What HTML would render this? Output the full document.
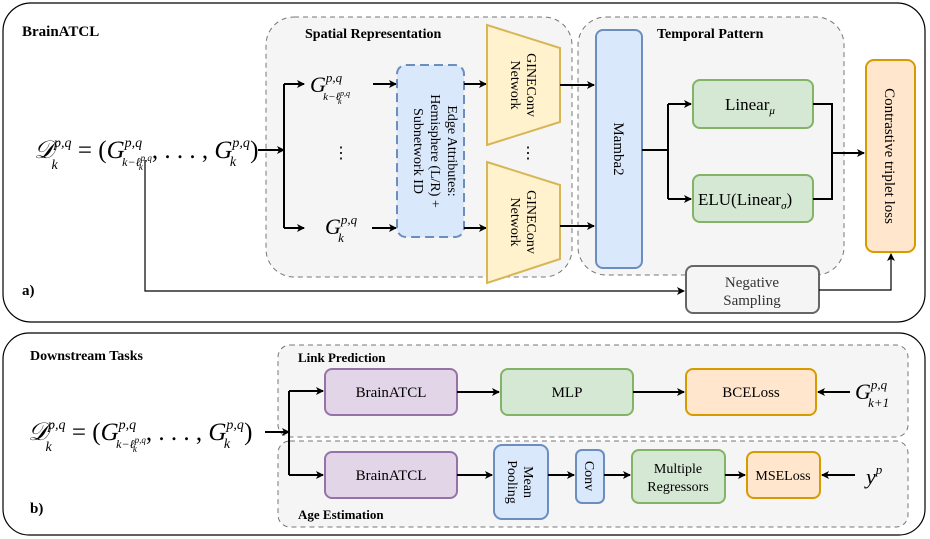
<!DOCTYPE html>
<html><head><meta charset="utf-8"><style>
html,body{margin:0;padding:0;background:#fff}
svg{display:block}
svg text{font-family:"Liberation Serif","DejaVu Serif",serif}
</style></head><body>
<svg width="930" height="539" viewBox="0 0 930 539" xmlns="http://www.w3.org/2000/svg" font-family="Liberation Serif, serif">
<defs>
<marker id="ar" markerWidth="8" markerHeight="8" refX="7" refY="4" orient="auto" markerUnits="userSpaceOnUse"><path d="M0,0 L8,4 L0,8 L2,4 z" fill="#000"/></marker>
</defs>
<!-- panel a -->
<rect x="3" y="3" width="922" height="319" rx="28" fill="#fff" stroke="#000" stroke-width="1.2"/>
<text x="22" y="36" font-size="15" font-weight="bold">BrainATCL</text>
<text x="22" y="295" font-size="15" font-weight="bold">a)</text>
<rect x="266" y="17" width="306" height="260" rx="28" fill="#f5f5f5" stroke="#777" stroke-dasharray="5,4"/>
<rect x="578" y="17" width="266" height="258" rx="28" fill="#f5f5f5" stroke="#777" stroke-dasharray="5,4"/>
<text x="305" y="38" font-size="14" font-weight="bold">Spatial Representation</text>
<text x="657" y="38" font-size="14" font-weight="bold">Temporal Pattern</text>
<!-- formula a -->
<text x="34" y="158" font-size="25" font-style="italic">𝒟<tspan font-size="14" dy="-11">p,q</tspan><tspan font-size="14" dx="-20" dy="22">k</tspan><tspan dy="-11" dx="14" font-style="normal"> = (</tspan>G<tspan font-size="14" dy="-11">p,q</tspan><tspan font-size="12" dx="-20" dy="19">k−ℓ</tspan><tspan font-size="9" dy="-5">p,q</tspan><tspan font-size="9" dx="-13" dy="9">k</tspan><tspan font-style="normal" dy="-12" dx="9">, . . . , </tspan>G<tspan font-size="14" dy="-11">p,q</tspan><tspan font-size="14" dx="-20" dy="19">k</tspan><tspan font-style="normal" dy="-8" dx="14">)</tspan></text>
<!-- branches -->
<path d="M284,84 V228" stroke="#000" stroke-width="2" fill="none"/>
<path d="M258,150 H284" stroke="#000" stroke-width="2" marker-end="url(#ar)"/>
<path d="M284,84 H304" stroke="#000" stroke-width="2" marker-end="url(#ar)"/>
<path d="M284,228 H304" stroke="#000" stroke-width="2" marker-end="url(#ar)"/>
<text x="310" y="92" font-size="22" font-style="italic">G<tspan font-size="13" dy="-10">p,q</tspan><tspan font-size="11" dx="-19" dy="18">k−ℓ</tspan><tspan font-size="8" dy="-4">p,q</tspan><tspan font-size="8" dx="-12" dy="8">k</tspan></text>
<text x="325" y="234" font-size="22" font-style="italic">G<tspan font-size="13" dy="-10">p,q</tspan><tspan font-size="13" dx="-19" dy="18">k</tspan></text>
<text x="333" y="158" font-size="16">⋮</text>
<path d="M373,84 H396" stroke="#000" stroke-width="2" marker-end="url(#ar)"/>
<path d="M372,228 H396" stroke="#000" stroke-width="2" marker-end="url(#ar)"/>
<rect x="397" y="65" width="67" height="172" rx="9" fill="#dae8fc" stroke="#6c8ebf" stroke-width="2" stroke-dasharray="9,5"/>
<text transform="translate(430,151) rotate(90)" font-size="14" text-anchor="middle"><tspan x="0" dy="-18">Edge Attributes:</tspan><tspan x="0" dy="17">Hemisphere (L/R) +</tspan><tspan x="0" dy="17">Subnetwork ID</tspan></text>
<path d="M464,84 H486" stroke="#000" stroke-width="2" marker-end="url(#ar)"/>
<path d="M464,228 H486" stroke="#000" stroke-width="2" marker-end="url(#ar)"/>
<polygon points="487,25 560,48 560,122 487,145" fill="#fff2cc" stroke="#d6b656" stroke-width="2"/>
<polygon points="487,162 560,185 560,259 487,283" fill="#fff2cc" stroke="#d6b656" stroke-width="2"/>
<text transform="translate(523,85) rotate(90)" font-size="14" text-anchor="middle"><tspan x="0" dy="-4">GINEConv</tspan><tspan x="0" dy="16">Network</tspan></text>
<text transform="translate(523,222) rotate(90)" font-size="14" text-anchor="middle"><tspan x="0" dy="-4">GINEConv</tspan><tspan x="0" dy="16">Network</tspan></text>
<text x="520" y="158" font-size="16">⋮</text>
<path d="M560,85 H594" stroke="#000" stroke-width="2" marker-end="url(#ar)"/>
<path d="M560,226 H594" stroke="#000" stroke-width="2" marker-end="url(#ar)"/>
<rect x="596" y="30" width="46" height="238" rx="7" fill="#dae8fc" stroke="#6c8ebf" stroke-width="2"/>
<text transform="translate(619,149) rotate(90)" font-size="15" text-anchor="middle" dy="5">Mamba2</text>
<path d="M642,150 H668 M668,104 V199" stroke="#000" stroke-width="2" fill="none"/>
<path d="M668,104 H691" stroke="#000" stroke-width="2" marker-end="url(#ar)"/>
<path d="M668,199 H691" stroke="#000" stroke-width="2" marker-end="url(#ar)"/>
<rect x="693" y="80" width="120" height="48" rx="7" fill="#d5e8d4" stroke="#82b366" stroke-width="2"/>
<rect x="693" y="175" width="120" height="47" rx="7" fill="#d5e8d4" stroke="#82b366" stroke-width="2"/>
<text x="725" y="110" font-size="17">Linear<tspan font-size="11" dy="4" font-style="italic">μ</tspan></text>
<text x="698" y="205" font-size="17">ELU(Linear<tspan font-size="11" dy="4" font-style="italic">σ</tspan><tspan dy="-4">)</tspan></text>
<path d="M813,104 H832 V199 H813" stroke="#000" stroke-width="2" fill="none"/>
<path d="M832,153 H864" stroke="#000" stroke-width="2" marker-end="url(#ar)"/>
<rect x="866" y="60" width="49" height="192" rx="8" fill="#ffe6cc" stroke="#d79b00" stroke-width="2"/>
<text transform="translate(890,156) rotate(90)" font-size="15" text-anchor="middle" dy="5">Contrastive triplet loss</text>
<path d="M145,160 V291 H684" stroke="#000" stroke-width="1.2" fill="none" marker-end="url(#ar)"/>
<rect x="686" y="266" width="133" height="47" rx="7" fill="#f5f5f5" stroke="#666" stroke-width="2"/>
<text x="752" y="287" font-size="15" text-anchor="middle" fill="#333">Negative</text>
<text x="752" y="305" font-size="15" text-anchor="middle" fill="#333">Sampling</text>
<path d="M819,290 H891 V254" stroke="#000" stroke-width="1.2" fill="none" marker-end="url(#ar)"/>
<!-- panel b -->
<rect x="3" y="333" width="922" height="202" rx="26" fill="#fff" stroke="#000" stroke-width="1.2"/>
<text x="30" y="360" font-size="14" font-weight="bold">Downstream Tasks</text>
<text x="30" y="513" font-size="15" font-weight="bold">b)</text>
<rect x="278" y="345" width="630" height="92" rx="12" fill="#f5f5f5" stroke="#777" stroke-dasharray="5,4"/>
<rect x="278" y="441" width="630" height="86" rx="12" fill="#f5f5f5" stroke="#777" stroke-dasharray="5,4"/>
<text x="298" y="362" font-size="13" font-weight="bold">Link Prediction</text>
<text x="298" y="519" font-size="13" font-weight="bold">Age Estimation</text>
<text x="28" y="440" font-size="25" font-style="italic">𝒟<tspan font-size="14" dy="-11">p,q</tspan><tspan font-size="14" dx="-20" dy="22">k</tspan><tspan dy="-11" dx="14" font-style="normal"> = (</tspan>G<tspan font-size="14" dy="-11">p,q</tspan><tspan font-size="12" dx="-20" dy="19">k−ℓ</tspan><tspan font-size="9" dy="-5">p,q</tspan><tspan font-size="9" dx="-13" dy="9">k</tspan><tspan font-style="normal" dy="-12" dx="9">, . . . , </tspan>G<tspan font-size="14" dy="-11">p,q</tspan><tspan font-size="14" dx="-20" dy="19">k</tspan><tspan font-style="normal" dy="-8" dx="14">)</tspan></text>
<path d="M289,391 V475" stroke="#000" stroke-width="2" fill="none"/>
<path d="M265,432 H289" stroke="#000" stroke-width="2" marker-end="url(#ar)"/>
<path d="M289,391 H323" stroke="#000" stroke-width="2" marker-end="url(#ar)"/>
<path d="M289,475 H323" stroke="#000" stroke-width="2" marker-end="url(#ar)"/>
<rect x="325" y="369" width="132" height="46" rx="7" fill="#e1d5e7" stroke="#9673a6" stroke-width="2"/>
<rect x="325" y="452" width="132" height="46" rx="7" fill="#e1d5e7" stroke="#9673a6" stroke-width="2"/>
<text x="391" y="397" font-size="15" text-anchor="middle">BrainATCL</text>
<text x="391" y="480" font-size="15" text-anchor="middle">BrainATCL</text>
<path d="M457,392 H499" stroke="#000" stroke-width="2" marker-end="url(#ar)"/>
<rect x="501" y="369" width="132" height="46" rx="7" fill="#d5e8d4" stroke="#82b366" stroke-width="2"/>
<text x="567" y="397" font-size="15" text-anchor="middle">MLP</text>
<path d="M633,392 H684" stroke="#000" stroke-width="2" marker-end="url(#ar)"/>
<rect x="686" y="369" width="130" height="46" rx="7" fill="#ffe6cc" stroke="#d79b00" stroke-width="2"/>
<text x="751" y="397" font-size="15" text-anchor="middle">BCELoss</text>
<path d="M850,392 H818" stroke="#000" stroke-width="2" marker-end="url(#ar)"/>
<text x="855" y="399" font-size="22" font-style="italic">G<tspan font-size="13" dy="-10">p,q</tspan><tspan font-size="13" dx="-19" dy="18">k+1</tspan></text>
<path d="M457,475 H492" stroke="#000" stroke-width="2" marker-end="url(#ar)"/>
<rect x="494" y="445" width="54" height="74" rx="8" fill="#dae8fc" stroke="#6c8ebf" stroke-width="2"/>
<text transform="translate(521,482) rotate(90)" font-size="14" text-anchor="middle"><tspan x="0" dy="-3">Mean</tspan><tspan x="0" dy="16">Pooling</tspan></text>
<path d="M548,475 H574" stroke="#000" stroke-width="2" marker-end="url(#ar)"/>
<rect x="576" y="450" width="28" height="53" rx="6" fill="#dae8fc" stroke="#6c8ebf" stroke-width="2"/>
<text transform="translate(590,476) rotate(90)" font-size="14" text-anchor="middle" dy="5">Conv</text>
<path d="M604,475 H630" stroke="#000" stroke-width="2" marker-end="url(#ar)"/>
<rect x="632" y="450" width="93" height="53" rx="7" fill="#d5e8d4" stroke="#82b366" stroke-width="2"/>
<text x="678" y="473" font-size="14" text-anchor="middle">Multiple</text>
<text x="678" y="491" font-size="14" text-anchor="middle">Regressors</text>
<path d="M725,475 H745" stroke="#000" stroke-width="2" marker-end="url(#ar)"/>
<rect x="747" y="452" width="73" height="46" rx="7" fill="#ffe6cc" stroke="#d79b00" stroke-width="2"/>
<text x="783" y="480" font-size="14" text-anchor="middle">MSELoss</text>
<path d="M855,475 H822" stroke="#000" stroke-width="2" marker-end="url(#ar)"/>
<text x="866" y="484" font-size="22" font-style="italic">y<tspan font-size="13" dy="-10">p</tspan></text>
</svg>
</body></html>
